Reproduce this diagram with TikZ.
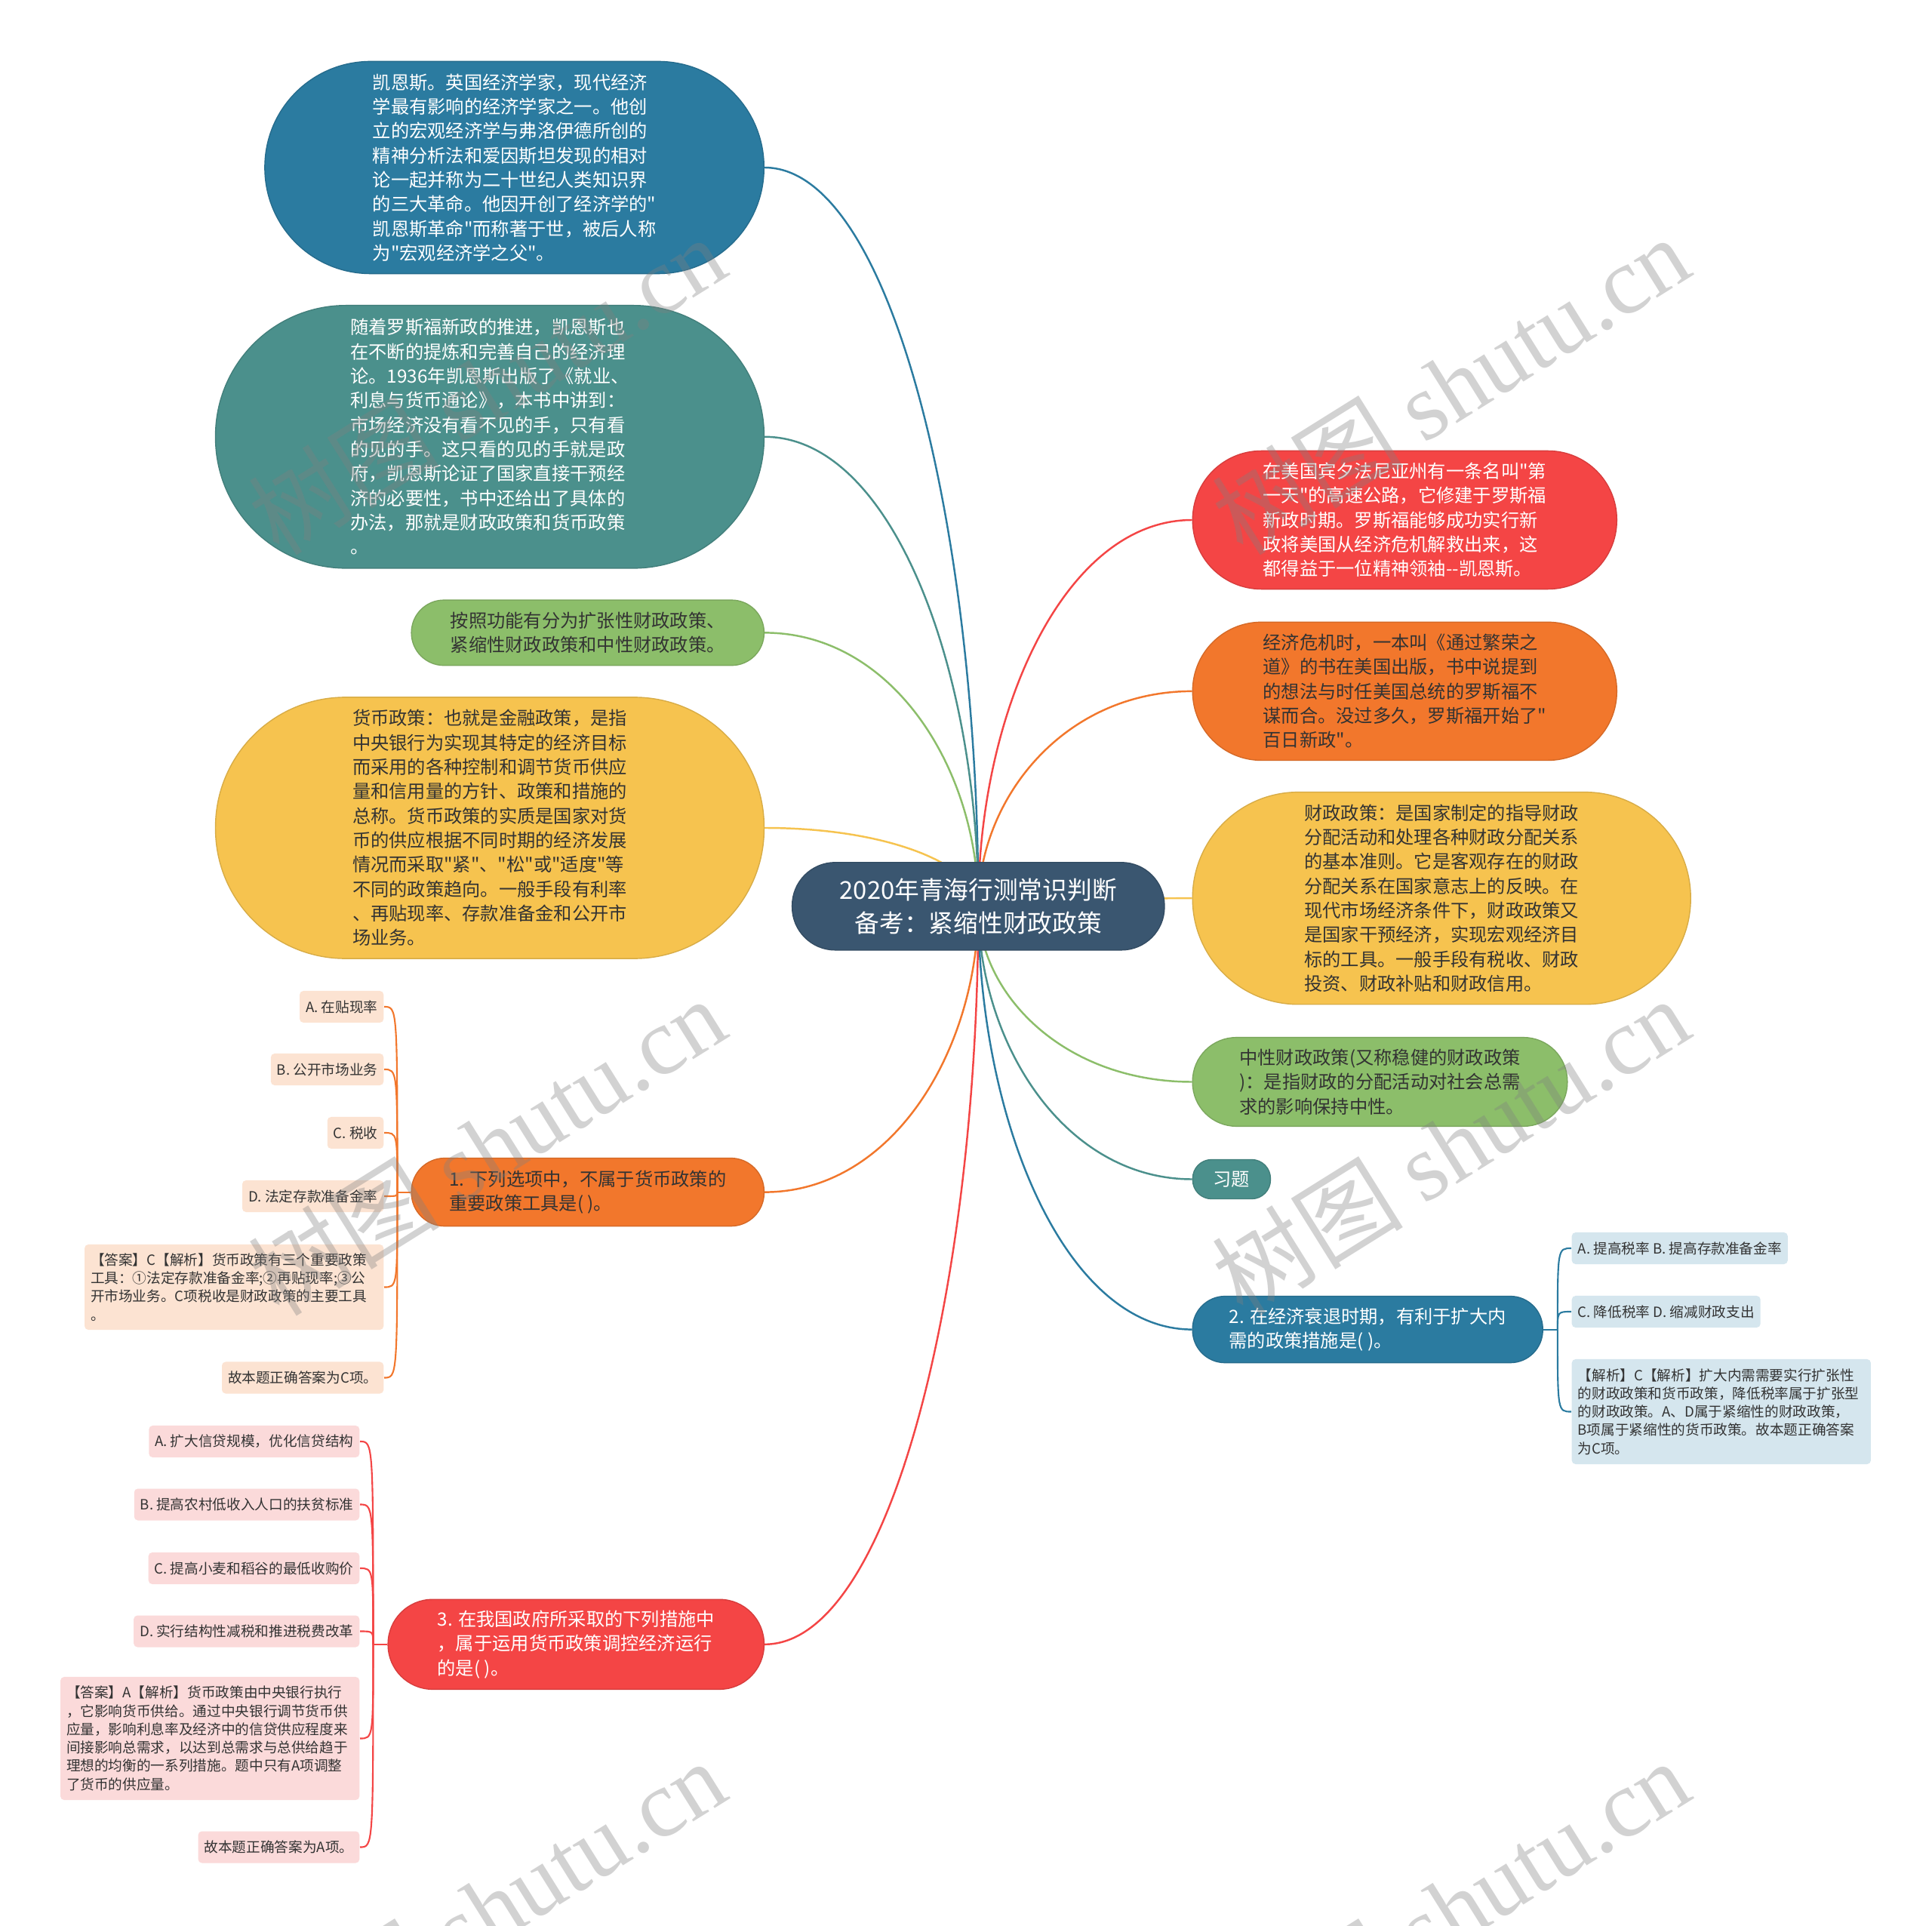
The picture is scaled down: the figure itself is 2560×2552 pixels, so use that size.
\documentclass[tikz,border=0pt]{standalone}
\usepackage{fontspec}
\setmainfont{Noto Sans CJK SC}[Ligatures=TeXOff]
\newfontfamily\wmlatin{Liberation Serif}
\usetikzlibrary{calc,backgrounds}
\definecolor{cCenter}{HTML}{3A5670}
\definecolor{cBlue}{HTML}{2B7BA0}
\definecolor{cTeal}{HTML}{4B908C}
\definecolor{cGreen}{HTML}{8CBE6A}
\definecolor{cYellow}{HTML}{F6C34F}
\definecolor{cOrange}{HTML}{F2772C}
\definecolor{cRed}{HTML}{F44545}
\definecolor{cPeach}{HTML}{FCE3D2}
\definecolor{cPink}{HTML}{FBDADA}
\definecolor{cLblue}{HTML}{D5E6EE}
\definecolor{cDark}{HTML}{333333}
\begin{document}
\begin{tikzpicture}[x=0.01cm,y=-0.01cm,
  bubble/.style={fill=#1, draw=#1!88!black, line width=0.4pt, align=left, inner sep=0pt,
    font=\fontsize{6.9}{9.2}\selectfont},
  conn/.style={line width=0.7pt, draw=#1},
  twig/.style={line width=0.6pt, draw=#1},
  leaf/.style={fill=#1, text=cDark, rounded corners=0.05cm, font=\fontsize{5.3}{6.9}\selectfont,
    inner xsep=0.08cm, inner ysep=0pt, minimum height=0.42cm},
  leafbox/.style={leaf=#1, text width=3.8cm, align=left, inner ysep=0.1cm},
  wm/.style={rotate=32, text=gray, opacity=0.35, font=\fontsize{36}{36}\selectfont}
]
\useasboundingbox (0,0) rectangle (2560,2552);

% central topic
\node[bubble=cCenter, text=white, align=center, font=\fontsize{9.3}{12.5}\selectfont,
  minimum width=4.93cm, minimum height=1.16cm, rounded corners=0.57cm]
  (ctr) at (1296.3,1200.8) {2020年青海行测常识判断\\备考：紧缩性财政政策};

% left topics
\node[bubble=cBlue, text=white, minimum width=6.61cm, minimum height=2.81cm, rounded corners=1.40cm]
  (keynes) at (681.6,222) {凯恩斯。英国经济学家，现代经济\\学最有影响的经济学家之一。他创\\立的宏观经济学与弗洛伊德所创的\\精神分析法和爱因斯坦发现的相对\\论一起并称为二十世纪人类知识界\\的三大革命。他因开创了经济学的"\\凯恩斯革命"而称著于世，被后人称\\为"宏观经济学之父"。};
\node[bubble=cTeal, text=white, minimum width=7.265cm, minimum height=3.48cm, rounded corners=1.73cm]
  (teal) at (649,578.8) {随着罗斯福新政的推进，凯恩斯也\\在不断的提炼和完善自己的经济理\\论。1936年凯恩斯出版了《就业、\\利息与货币通论》，本书中讲到：\\市场经济没有看不见的手，只有看\\的见的手。这只看的见的手就是政\\府，凯恩斯论证了国家直接干预经\\济的必要性，书中还给出了具体的\\办法，那就是财政政策和货币政策\\。};
\node[bubble=cGreen, text=cDark, minimum width=4.67cm, minimum height=0.865cm, rounded corners=0.43cm]
  (greenl) at (778.8,838.4) {按照功能有分为扩张性财政政策、\\紧缩性财政政策和中性财政政策。};
\node[bubble=cYellow, text=cDark, minimum width=7.265cm, minimum height=3.46cm, rounded corners=1.72cm]
  (yell) at (649,1097) {货币政策：也就是金融政策，是指\\中央银行为实现其特定的经济目标\\而采用的各种控制和调节货币供应\\量和信用量的方针、政策和措施的\\总称。货币政策的实质是国家对货\\币的供应根据不同时期的经济发展\\情况而采取"紧"、"松"或"适度"等\\不同的政策趋向。一般手段有利率\\、再贴现率、存款准备金和公开市\\场业务。};
\node[bubble=cOrange, text=cDark, minimum width=4.67cm, minimum height=0.90cm, rounded corners=0.44cm]
  (q1) at (778.8,1579.6) {1. 下列选项中，不属于货币政策的\\重要政策工具是( )。};
\node[bubble=cRed, text=white, minimum width=4.98cm, minimum height=1.19cm, rounded corners=0.59cm]
  (q3) at (763.3,2178.8) {3. 在我国政府所采取的下列措施中\\，属于运用货币政策调控经济运行\\的是( )。};

% right topics
\node[bubble=cRed, text=white, minimum width=5.617cm, minimum height=1.83cm, rounded corners=0.91cm]
  (redr) at (1861.3,689) {在美国宾夕法尼亚州有一条名叫"第\\一天"的高速公路，它修建于罗斯福\\新政时期。罗斯福能够成功实行新\\政将美国从经济危机解救出来，这\\都得益于一位精神领袖--凯恩斯。};
\node[bubble=cOrange, text=cDark, minimum width=5.617cm, minimum height=1.83cm, rounded corners=0.91cm]
  (oranger) at (1861.3,915.9) {经济危机时，一本叫《通过繁荣之\\道》的书在美国出版，书中说提到\\的想法与时任美国总统的罗斯福不\\谋而合。没过多久，罗斯福开始了"\\百日新政"。};
\node[bubble=cYellow, text=cDark, minimum width=6.596cm, minimum height=2.81cm, rounded corners=1.40cm]
  (yelr) at (1910.2,1190.2) {财政政策：是国家制定的指导财政\\分配活动和处理各种财政分配关系\\的基本准则。它是客观存在的财政\\分配关系在国家意志上的反映。在\\现代市场经济条件下，财政政策又\\是国家干预经济，实现宏观经济目\\标的工具。一般手段有税收、财政\\投资、财政补贴和财政信用。};
\node[bubble=cGreen, text=cDark, minimum width=4.963cm, minimum height=1.176cm, rounded corners=0.58cm]
  (greenr) at (1828.5,1433.5) {中性财政政策(又称稳健的财政政策\\)：是指财政的分配活动对社会总需\\求的影响保持中性。};
\node[bubble=cTeal, text=white, minimum width=1.03cm, minimum height=0.52cm, rounded corners=0.25cm]
  (xiti) at (1631.9,1562.5) {习题};
\node[bubble=cBlue, text=white, minimum width=4.637cm, minimum height=0.88cm, rounded corners=0.43cm]
  (q2) at (1812.2,1761.6) {2. 在经济衰退时期，有利于扩大内\\需的政策措施是( )。};

% question 1 leaves
\node[leaf=cPeach, anchor=east] (q1a) at (509,1334) {A. 在贴现率};
\node[leaf=cPeach, anchor=east] (q1b) at (509,1417) {B. 公开市场业务};
\node[leaf=cPeach, anchor=east] (q1c) at (509,1501) {C. 税收};
\node[leaf=cPeach, anchor=east] (q1d) at (509,1585) {D. 法定存款准备金率};
\node[leafbox=cPeach, anchor=east, minimum height=1.13cm] (q1e) at (509,1705.5)
  {【答案】C【解析】货币政策有三个重要政策\\工具：①法定存款准备金率;②再贴现率;③公\\开市场业务。C项税收是财政政策的主要工具\\。};
\node[leaf=cPeach, anchor=east] (q1f) at (509,1825.5) {故本题正确答案为C项。};

% question 3 leaves
\node[leaf=cPink, anchor=east] (q3a) at (477,1910) {A. 扩大信贷规模，优化信贷结构};
\node[leaf=cPink, anchor=east] (q3b) at (477,1993.5) {B. 提高农村低收入人口的扶贫标准};
\node[leaf=cPink, anchor=east] (q3c) at (477,2078) {C. 提高小麦和稻谷的最低收购价};
\node[leaf=cPink, anchor=east] (q3d) at (477,2161.5) {D. 实行结构性减税和推进税费改革};
\node[leafbox=cPink, anchor=east, minimum height=1.63cm] (q3e) at (477,2303.5)
  {【答案】A【解析】货币政策由中央银行执行\\，它影响货币供给。通过中央银行调节货币供\\应量，影响利息率及经济中的信贷供应程度来\\间接影响总需求，以达到总需求与总供给趋于\\理想的均衡的一系列措施。题中只有A项调整\\了货币的供应量。};
\node[leaf=cPink, anchor=east] (q3f) at (477,2447.5) {故本题正确答案为A项。};

% question 2 leaves
\node[leaf=cLblue, anchor=west] (q2a) at (2082,1654) {A. 提高税率 B. 提高存款准备金率};
\node[leaf=cLblue, anchor=west] (q2b) at (2082,1738) {C. 降低税率 D. 缩减财政支出};
\node[leafbox=cLblue, anchor=west, minimum height=1.39cm] (q2c) at (2082,1870.5)
  {【解析】C【解析】扩大内需需要实行扩张性\\的财政政策和货币政策，降低税率属于扩张型\\的财政政策。A、D属于紧缩性的财政政策，\\B项属于紧缩性的货币政策。故本题正确答案\\为C项。};

\begin{scope}[on background layer]
  \fill[white] (0,0) rectangle (2560,2552);
  % main connectors, left side
  \foreach \n/\c in {keynes/cBlue, teal/cTeal, greenl/cGreen, yell/cYellow, q1/cOrange, q3/cRed} {
    \coordinate (h) at (\n.east -| ctr.center);
    \draw[conn=\c] (\n.east) .. controls ($(\n.east)!0.6!(h)$) and ($(h)!0.5!(ctr.center)$) .. (ctr.center);
  }
  % main connectors, right side
  \foreach \n/\c in {redr/cRed, oranger/cOrange, yelr/cYellow, greenr/cGreen, xiti/cTeal, q2/cBlue} {
    \coordinate (h) at (\n.west -| ctr.center);
    \draw[conn=\c] (ctr.center) .. controls ($(h)!0.5!(ctr.center)$) and ($(\n.west)!0.6!(h)$) .. (\n.west);
  }
  % leaves of question 1
  \coordinate (j1) at ($(q1.west)+(-18,0)$);
  \draw[twig=cOrange] (q1.west) -- (j1);
  \foreach \k in {q1a,q1b,q1c,q1d,q1e,q1f}
    \draw[twig=cOrange] (j1) .. controls (j1 |- \k.east) and (j1 |- \k.east) .. (\k.east);
  % leaves of question 3
  \coordinate (j3) at ($(q3.west)+(-19,0)$);
  \draw[twig=cRed] (q3.west) -- (j3);
  \foreach \k in {q3a,q3b,q3c,q3d,q3e,q3f}
    \draw[twig=cRed] (j3) .. controls (j3 |- \k.east) and (j3 |- \k.east) .. (\k.east);
  % leaves of question 2
  \coordinate (j2) at ($(q2.east)+(19,0)$);
  \draw[twig=cBlue] (q2.east) -- (j2);
  \foreach \k in {q2a,q2b,q2c}
    \draw[twig=cBlue] (j2) .. controls (j2 |- \k.west) and (j2 |- \k.west) .. (\k.west);
\end{scope}

% watermarks
\begin{scope}
  \clip (0,0) rectangle (2560,2552);
  \foreach \px/\py [count=\i] in {645/510, 1922/510, 645/1518, 1922/1518, 645/2528, 1922/2528}
    \node[wm] (wm\i) at (\px,\py) {树图 {\wmlatin shutu.cn}};
\end{scope}
\end{tikzpicture}
\end{document}
